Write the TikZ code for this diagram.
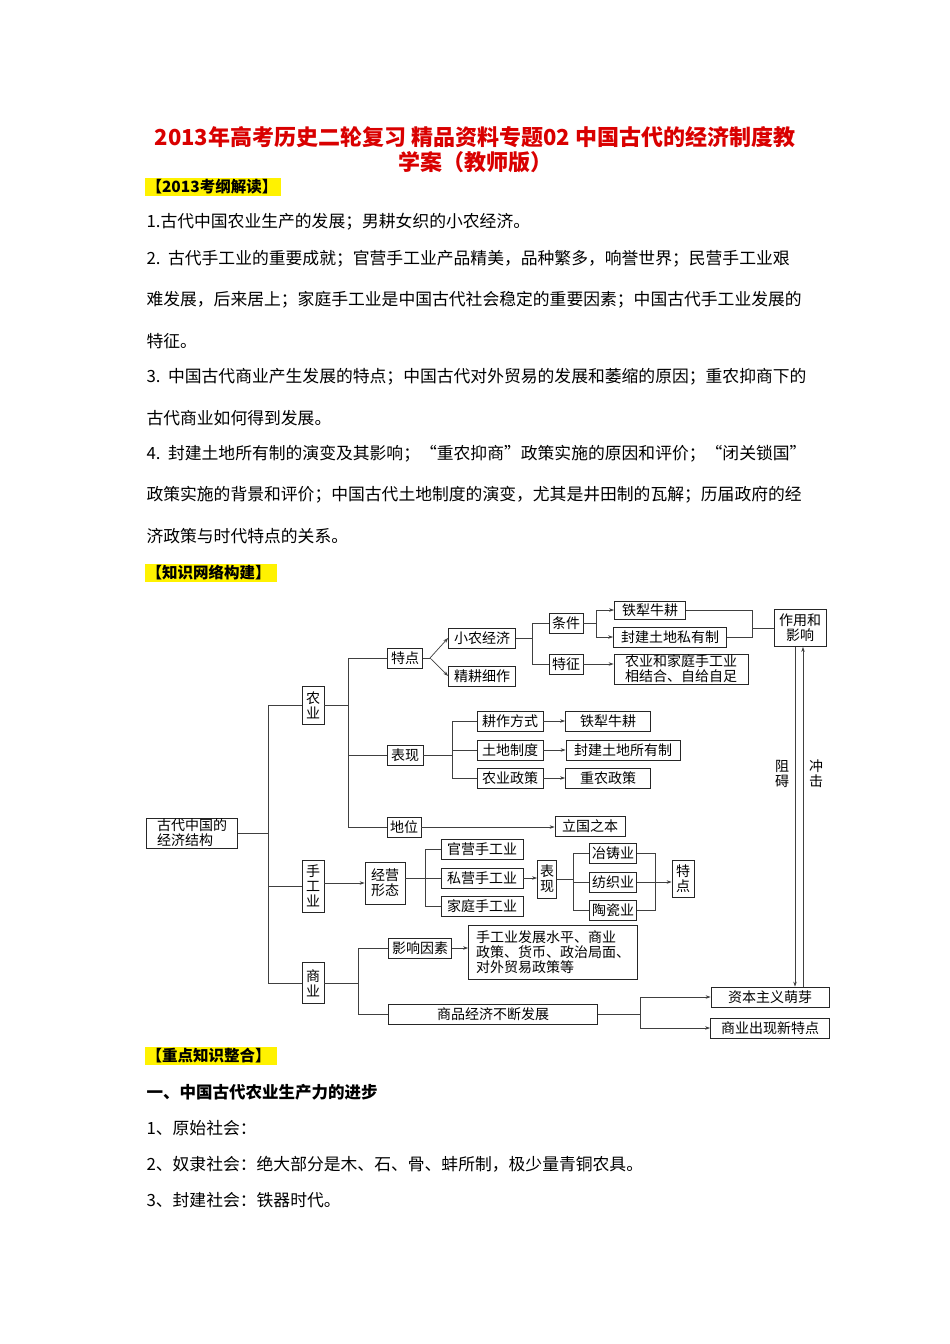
\documentclass[tikz,border=0pt]{standalone}
\usepackage{fontspec}
\setmainfont{Noto Sans CJK SC}
\usetikzlibrary{arrows.meta}
\begin{document}
\begin{tikzpicture}[x=1pt,y=-1pt,
  bx/.style={draw=black!85,line width=0.8pt,inner sep=1.5pt,minimum height=20,font=\fontsize{14}{15}\selectfont,fill=white},
  vx/.style={bx,align=center,inner sep=1pt,font=\fontsize{14}{15}\selectfont},
  ln/.style={draw=black!75,line width=0.7pt},
  ar/.style={ln,-{Stealth[length=5pt,width=3.5pt]}},
  bt/.style={anchor=west,font=\fontsize{16.8}{18}\selectfont},
  hd/.style={anchor=west,font=\bfseries\fontsize{15.5}{18}\selectfont}]
\useasboundingbox (0,0) rectangle (950,1344);
\fill[white] (0,0) rectangle (950,1344);
% title
\node[font=\bfseries\fontsize{22}{26}\selectfont,text=red!85!black] (t1) at (475,137) {2013年高考历史二轮复习 精品资料专题02 中国古代的经济制度教};
\node[font=\bfseries\fontsize{22}{26}\selectfont,text=red!85!black] (t2) at (475,162) {学案（教师版）};
\fill[yellow] (145,178) rectangle (281,196);
\node[hd] (h1) at (143,187) {【2013考纲解读】};
\node[bt] (l1) at (143,222) {1.古代中国农业生产的发展；男耕女织的小农经济。};
\node[bt] (l2) at (143,259) {2.\ \ 古代手工业的重要成就；官营手工业产品精美，品种繁多，响誉世界；民营手工业艰};
\node[bt] (l3) at (143,300) {难发展，后来居上；家庭手工业是中国古代社会稳定的重要因素；中国古代手工业发展的};
\node[bt] (l4) at (143,341) {特征。};
\node[bt] (l5) at (143,377) {3.\ \ 中国古代商业产生发展的特点；中国古代对外贸易的发展和萎缩的原因；重农抑商下的};
\node[bt] (l6) at (143,418) {古代商业如何得到发展。};
\node[bt] (l7) at (143,454) {4.\ \ 封建土地所有制的演变及其影响；“重农抑商”政策实施的原因和评价；“闭关锁国”};
\node[bt] (l8) at (143,495) {政策实施的背景和评价；中国古代土地制度的演变，尤其是井田制的瓦解；历届政府的经};
\node[bt] (l9) at (143,536) {济政策与时代特点的关系。};
\fill[yellow] (145,564) rectangle (277,582);
\node[hd] (h2) at (143,573) {【知识网络构建】};
% diagram
\node[vx,minimum width=91,align=left] (root) at (192,833) {古代中国的\\经济结构};
\node[vx,minimum width=22,minimum height=38] (nong) at (313,705) {农\\业};
\node[vx,minimum width=22,minimum height=52] (shou) at (313,886) {手\\工\\业};
\node[vx,minimum width=22,minimum height=41] (shang) at (313,983) {商\\业};
\coordinate (c1) at (268,833);
\draw[ln] (root.east) -- (c1);
\draw[ln] (nong.west) -| (c1);
\draw[ln] (shou.west) -| (c1);
\draw[ln] (shang.west) -| (c1);
% agriculture
\node[bx,minimum width=35] (td) at (405,658) {特点};
\node[bx,minimum width=36] (bx1) at (405,755) {表现};
\node[bx,minimum width=34] (dw) at (404,827) {地位};
\coordinate (c2) at (348,705);
\draw[ln] (nong.east) -- (c2);
\draw[ln] (td.west) -| (c2);
\draw[ln] (bx1.west) -| (c2);
\draw[ln] (dw.west) -| (c2);
\node[bx,minimum width=67] (xn) at (482,638) {小农经济};
\node[bx,minimum width=67] (jg) at (482,676) {精耕细作};
\coordinate (c3) at (430,658);
\draw[ln] (td.east) -- (c3);
\draw[ar] (c3) -- (xn.west);
\draw[ar] (c3) -- (jg.west);
\node[bx,minimum width=34] (tj) at (566,623) {条件};
\node[bx,minimum width=34] (tz) at (566,664) {特征};
\coordinate (c4) at (532,638);
\draw[ln] (xn.east) -- (c4);
\draw[ln] (tj.west) -| (c4);
\draw[ln] (tz.west) -| (c4);
\node[bx,minimum width=71,minimum height=18] (tl1) at (650,610) {铁犁牛耕};
\node[bx,minimum width=113] (fj1) at (670,637) {封建土地私有制};
\node[vx,minimum width=134] (nj) at (681,669) {农业和家庭手工业\\相结合、自给自足};
\coordinate (c5) at (596,623);
\draw[ln] (tj.east) -- (c5);
\draw[ar] (c5) |- (tl1.west);
\draw[ar] (c5) |- (fj1.west);
\draw[ar] (tz.east) -- (nj.west |- tz.east);
\node[vx,minimum width=52,minimum height=37] (zy) at (800,628) {作用和\\影响};
\coordinate (c6) at (752,628);
\draw[ln] (tl1.east) -| (c6);
\draw[ln] (fj1.east) -| (c6);
\draw[ln] (c6) -- (zy.west);
\node[bx,minimum width=66] (gz) at (510,721) {耕作方式};
\node[bx,minimum width=66] (td2) at (510,750) {土地制度};
\node[bx,minimum width=66] (nz) at (510,778) {农业政策};
\coordinate (c7) at (452,755);
\draw[ln] (bx1.east) -- (c7);
\draw[ln] (gz.west) -| (c7);
\draw[ln] (td2.west) -| (c7);
\draw[ln] (nz.west) -| (c7);
\node[bx,minimum width=85] (tl2) at (608,721) {铁犁牛耕};
\node[bx,minimum width=114] (fj2) at (623,750) {封建土地所有制};
\node[bx,minimum width=85] (zn) at (608,778) {重农政策};
\draw[ar] (gz.east) -- (tl2.west);
\draw[ar] (td2.east) -- (fj2.west);
\draw[ar] (nz.east) -- (zn.west);
\node[bx,minimum width=70] (lg) at (590,826) {立国之本};
\draw[ar] (dw.east) -- (lg.west |- dw.east);
% handicraft
\node[vx,minimum width=40,minimum height=42] (jy) at (385,883) {经营\\形态};
\draw[ar] (shou.east |- jy.west) -- (jy.west);
\node[bx,minimum width=82] (gy) at (482,849) {官营手工业};
\node[bx,minimum width=82] (sy) at (482,878) {私营手工业};
\node[bx,minimum width=82] (jt) at (482,906) {家庭手工业};
\coordinate (c8) at (425,878);
\draw[ln] (jy.east |- c8) -- (c8);
\draw[ln] (gy.west) -| (c8);
\draw[ln] (sy.west) -- (c8);
\draw[ln] (jt.west) -| (c8);
\node[vx,minimum width=19,minimum height=38] (bx2) at (547,879) {表\\现};
\draw[ar] (sy.east) -- (bx2.west |- sy.east);
\node[bx,minimum width=47] (yz) at (613,853) {冶铸业};
\node[bx,minimum width=47] (fz) at (613,882) {纺织业};
\node[bx,minimum width=47] (tc) at (613,910) {陶瓷业};
\coordinate (c9) at (573,879);
\draw[ln] (bx2.east) -- (c9);
\draw[ln] (yz.west) -| (c9);
\draw[ln] (fz.west) -| (c9);
\draw[ln] (tc.west) -| (c9);
\node[vx,minimum width=22,minimum height=37] (td3) at (683,879) {特\\点};
\coordinate (c10) at (655,882);
\draw[ln] (yz.east) -| (c10);
\draw[ln] (tc.east) -| (c10);
\draw[ar] (fz.east) -- (td3.west |- fz.east);
% commerce
\node[bx,minimum width=63] (yx) at (420,948) {影响因素};
\node[vx,minimum width=169,minimum height=54,align=left] (ys) at (553,952) {手工业发展水平、商业\\政策、货币、政治局面、\\对外贸易政策等};
\node[bx,minimum width=209] (sp) at (493,1014) {商品经济不断发展};
\coordinate (c11) at (358,983);
\draw[ln] (shang.east) -- (c11);
\draw[ln] (yx.west) -| (c11);
\draw[ln] (sp.west) -| (c11);
\draw[ar] (yx.east) -- (ys.west |- yx.east);
\node[bx,minimum width=118] (zb) at (770,997) {资本主义萌芽};
\node[bx,minimum width=119] (sx) at (770,1028) {商业出现新特点};
\coordinate (c12) at (640,1014);
\draw[ln] (sp.east) -- (c12);
\draw[ar] (c12) |- (zb.west);
\draw[ar] (c12) |- (sx.west);
\coordinate (v1) at (795,0);
\coordinate (v2) at (803,0);
\draw[ar] (v1 |- zy.south) -- (v1 |- zb.north);
\draw[ar] (v2 |- zb.north) -- (v2 |- zy.south);
\node[font=\fontsize{14}{15}\selectfont,align=center] (zai) at (782,774) {阻\\碍};
\node[font=\fontsize{14}{15}\selectfont,align=center] (cj) at (816,774) {冲\\击};
% bottom text
\fill[yellow] (145,1047) rectangle (277,1065);
\node[hd] (h3) at (143,1056) {【重点知识整合】};
\node[hd,font=\bfseries\fontsize{16.5}{18}\selectfont] (s1) at (143,1092) {一、中国古代农业生产力的进步};
\node[bt] (b1) at (143,1128) {1、原始社会：};
\node[bt] (b2) at (143,1164) {2、奴隶社会：绝大部分是木、石、骨、蚌所制，极少量青铜农具。};
\node[bt] (b3) at (143,1200) {3、封建社会：铁器时代。};
\end{tikzpicture}
\end{document}
